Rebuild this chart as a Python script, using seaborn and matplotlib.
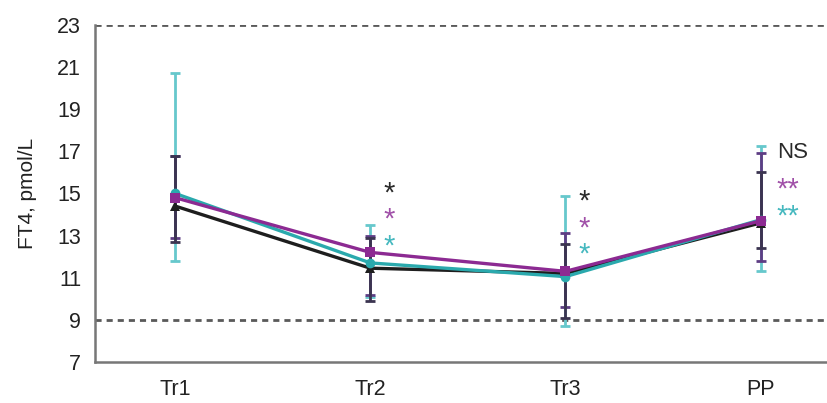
"""FT4 по триместрам: три группы, средние с разбросом"""
import numpy as np
import pandas as pd
import matplotlib
matplotlib.use('Agg')
import matplotlib.pyplot as plt
import seaborn as sns

# Данные
periods = ['Tr1', 'Tr2', 'Tr3', 'PP']

black_mean = [14.4, 11.45, 11.2, 13.6]
black_low = [12.7, 9.9, 9.1, 12.4]
black_high = [16.8, 12.9, 12.6, 16.0]

purple_mean = [14.8, 12.2, 11.3, 13.7]
purple_low = [12.9, 10.2, 9.6, 11.8]
purple_high = [16.8, 13.0, 13.1, 16.9]

teal_mean = [15.0, 11.7, 11.05, 13.75]
teal_low = [11.8, 10.1, 8.7, 11.3]
teal_high = [20.7, 13.5, 14.9, 17.25]

ref_lines = [9, 23]

# значимость: (период, текст, группа)
sig_labels = [
    ('Tr2', '*', 'black'), ('Tr2', '*', 'purple'), ('Tr2', '*', 'teal'),
    ('Tr3', '*', 'black'), ('Tr3', '*', 'purple'), ('Tr3', '*', 'teal'),
    ('PP', 'NS', 'black'), ('PP', '**', 'purple'), ('PP', '**', 'teal'),
]
sig_y = {'Tr2': [15.4, 14.15, 12.9], 'Tr3': [15.0, 13.75, 12.5], 'PP': [16.95, 15.6, 14.3]}

sns.set_style('white')
plt.rcParams['font.family'] = ['Liberation Sans', 'DejaVu Sans']

colors = {'black': '#1e1e1e', 'purple': '#8c2a92', 'teal': '#2aa9ad'}
err_colors = {'black': '#3b3450', 'purple': '#5e3d84', 'teal': '#66c8cc'}
text_colors = {'black': '#2a2a2a', 'purple': '#a050a8', 'teal': '#45b8bf'}
markers = {'black': '^', 'purple': 's', 'teal': 'o'}

groups = {
    'black': (black_mean, black_low, black_high),
    'purple': (purple_mean, purple_low, purple_high),
    'teal': (teal_mean, teal_low, teal_high),
}

rows = []
for g, (m, lo, hi) in groups.items():
    for p, v in zip(periods, m):
        rows.append({'period': p, 'group': g, 'ft4': v})
df = pd.DataFrame(rows)

fig = plt.figure(figsize=(8.27, 4.03), dpi=100)
ax = fig.add_axes([0.115, 0.102, 0.885, 0.836])

x = np.arange(len(periods))

# разброс: сначала бирюзовый (сзади), потом остальные
for g in ['teal', 'purple', 'black']:
    m, lo, hi = groups[g]
    m = np.array(m)
    yerr = [m - np.array(lo), np.array(hi) - m]
    ax.errorbar(x, m, yerr=yerr, fmt='none', ecolor=err_colors[g],
                elinewidth=2.0, capsize=3.5, capthick=2.0, zorder=2)

# линии средних
for g in ['black', 'teal', 'purple']:
    sub = df[df['group'] == g].copy()
    sub['x'] = sub['period'].map({p: i for i, p in enumerate(periods)})
    sns.lineplot(data=sub, x='x', y='ft4', ax=ax, color=colors[g],
                 marker=markers[g], markersize=7, markeredgewidth=0,
                 linewidth=2.4, zorder=3, legend=False)

# референсные линии
for yv in ref_lines:
    ax.axhline(yv, color='#5a5a5a', linewidth=2.0, dashes=(2.2, 1.8), zorder=1)

# звездочки
for i, p in enumerate(periods):
    labs = [s for s in sig_labels if s[0] == p]
    for (pp, txt, g), yy in zip(labs, sig_y.get(p, [])):
        if txt == 'NS':
            ax.text(i + 0.085, yy, txt, color=text_colors[g], fontsize=16,
                    ha='left', va='center')
        elif p == 'PP':
            ax.text(i + 0.08, yy - 0.4, txt, color=text_colors[g],
                    fontsize=21, ha='left', va='center')
        else:
            ax.text(i + 0.095, yy - 0.4, txt, color=text_colors[g],
                    fontsize=21, ha='center', va='center')

ax.set_xlim(-0.41, 3.34)
ax.set_ylim(7, 23)
ax.set_yticks(range(7, 24, 2))
ax.set_xticks(x)
ax.set_xticklabels(periods)
ax.set_xticks([0.5, 1.5, 2.5], minor=True)
ax.tick_params(axis='x', which='major', length=0, pad=12, labelsize=15.5, colors='#222222')
ax.tick_params(axis='x', which='minor', length=5, width=1.3, color='#666666', direction='out')
ax.tick_params(axis='y', length=5, width=1.3, color='#666666', direction='out',
               labelsize=15.5, labelcolor='#222222', pad=5)
ax.set_xlabel('')
ax.set_ylabel('FT4, pmol/L', fontsize=15, color='#222222', labelpad=15)

for side in ['top', 'right']:
    ax.spines[side].set_visible(False)
for side in ['left', 'bottom']:
    ax.spines[side].set_color('#777777')
    ax.spines[side].set_linewidth(1.8)

fig.savefig('out.png', dpi=100)
